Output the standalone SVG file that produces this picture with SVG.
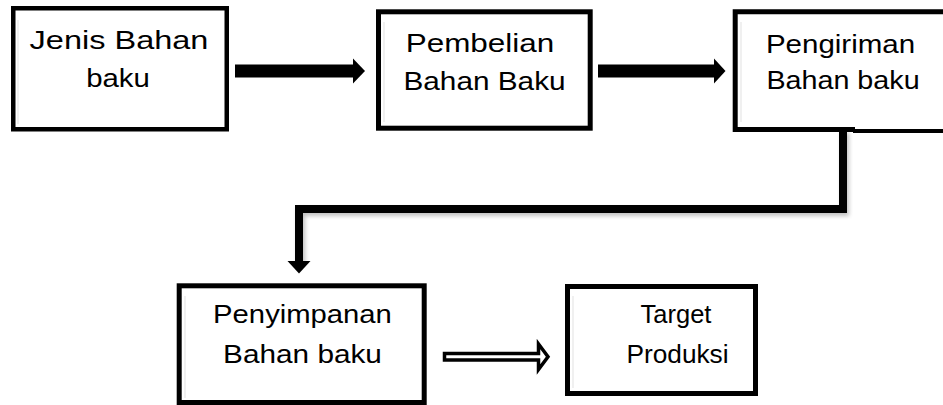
<svg xmlns="http://www.w3.org/2000/svg" width="943" height="405" viewBox="0 0 943 405">
  <style>
    .box { fill: #ffffff; stroke: #000000; stroke-width: 5; }
    .lbl { font-family: "Liberation Sans", Arial, sans-serif; font-size: 26px; fill: #000000; text-anchor: middle; }
    .solid { fill: #000000; }
    .inner { stroke: #f0f0f0; stroke-width: 2; }
  </style>
  <defs>
    <filter id="sh" x="-5%" y="-20%" width="110%" height="160%">
      <feGaussianBlur in="SourceAlpha" stdDeviation="2"/>
      <feOffset dx="2" dy="3" result="b"/>
      <feComponentTransfer><feFuncA type="linear" slope="0.25"/></feComponentTransfer>
      <feMerge><feMergeNode/><feMergeNode in="SourceGraphic"/></feMerge>
    </filter>
  </defs>
  <rect width="943" height="405" fill="#ffffff"/>

  <g id="n1">
    <rect class="box" x="13.25" y="8.25" width="213.5" height="121" style="stroke-width:4.5"/>
    <line class="inner" x1="18" y1="20" x2="18" y2="124"/>
    <text class="lbl" transform="translate(119,48.5) scale(1.25,1)">Jenis Bahan</text>
    <text class="lbl" transform="translate(118,87) scale(1.13,1)">baku</text>
  </g>

  <g id="n2">
    <rect class="box" x="378.5" y="11.8" width="211.7" height="116.4"/>
    <line class="inner" x1="384" y1="22" x2="384" y2="122"/>
    <text class="lbl" transform="translate(480,52) scale(1.21,1)">Pembelian</text>
    <text class="lbl" transform="translate(484.5,89.5) scale(1.145,1)">Bahan Baku</text>
  </g>

  <g id="n3">
    <path d="M950,11.8 H735.2 V129.5 H855" fill="#ffffff" stroke="#000" stroke-width="5"/>
    <line x1="853" y1="131" x2="943" y2="131" stroke="#000" stroke-width="4"/>
    <line class="inner" x1="741" y1="22" x2="741" y2="122"/>
    <text class="lbl" transform="translate(840.5,52.5) scale(1.135,1)">Pengiriman</text>
    <text class="lbl" transform="translate(843,88.5) scale(1.105,1)">Bahan baku</text>
  </g>

  <g id="n4">
    <rect class="box" x="179.2" y="285.8" width="245" height="116.7"/>
    <line class="inner" x1="185" y1="296" x2="185" y2="398"/>
    <text class="lbl" transform="translate(302.5,323) scale(1.125,1)">Penyimpanan</text>
    <text class="lbl" transform="translate(302.5,363) scale(1.145,1)">Bahan baku</text>
  </g>

  <g id="n5">
    <rect class="box" x="567.5" y="286.5" width="188" height="107"/>
    <line class="inner" x1="573" y1="296" x2="573" y2="388"/>
    <text class="lbl" transform="translate(676,323) scale(0.98,1)">Target</text>
    <text class="lbl" transform="translate(677.5,363) scale(1.01,1)">Produksi</text>
  </g>

  <g id="connectors">
    <g id="e1">
      <rect class="solid" x="235" y="64.5" width="120" height="13"/>
      <polygon class="solid" points="353,58.5 365,71 353,83.5"/>
    </g>
    <g id="e2">
      <rect class="solid" x="598" y="64.5" width="118" height="13"/>
      <polygon class="solid" points="714,58.5 725.5,71 714,83.5"/>
    </g>
    <g id="e3">
      <path d="M843,130 V209 H299 V262" fill="none" stroke="#000" stroke-width="8" stroke-linejoin="miter" filter="url(#sh)"/>
      <polygon class="solid" points="287.5,261 310.5,261 299,273.5"/>
    </g>
    <g id="e4">
      <path d="M444.5,353.5 H538.5 V344 L548,356.7 L538.5,369.5 V360 H444.5 Z" fill="#ffffff" stroke="#000" stroke-width="3.5" stroke-linejoin="miter"/>
    </g>
  </g>
</svg>
